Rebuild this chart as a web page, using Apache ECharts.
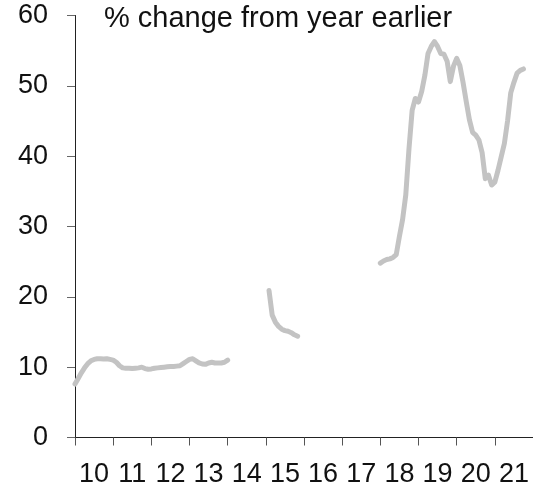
<!DOCTYPE html>
<html>
<head>
<meta charset="utf-8">
<script src="https://cdn.jsdelivr.net/npm/echarts@6/dist/echarts.min.js"></script>
<style>
html,body{margin:0;padding:0;background:#fff;}
#c{width:533px;height:493px;}
</style>
</head>
<body>
<div id="c"></div>
<script>
// Tick labels (years, centred in each year)
const yearLabels = ['10','11','12','13','14','15','16','17','18','19','20','21'];
const yTicks = [0, 10, 20, 30, 40, 50, 60];
const titleText = '% change from year earlier';

// Monthly values, % change from year earlier, in three segments
const seg1Start = 2010;          // Jan 2010
const seg1Values = [7.6, 8.4, 9.2, 9.9, 10.5, 10.9, 11.1, 11.2, 11.2, 11.15, 11.2, 11.1,
  11.0, 10.7, 10.2, 9.9, 9.85, 9.85, 9.8, 9.85, 9.9, 10.0, 9.8, 9.7,
  9.75, 9.85, 9.9, 9.95, 10.0, 10.05, 10.1, 10.1, 10.15, 10.2, 10.5, 10.8,
  11.1, 11.2, 10.9, 10.6, 10.45, 10.4, 10.6, 10.7, 10.6, 10.6, 10.6, 10.7,
  11.0];
const seg2Start = 2015 + 1 / 12; // Feb 2015
const seg2Values = [20.9, 17.4, 16.4, 15.8, 15.4, 15.2, 15.1, 14.9, 14.6, 14.4];
const seg3Start = 2018;          // Jan 2018
const seg3Values = [24.8, 25.1, 25.3, 25.4, 25.6, 26.0, 28.6, 31.0, 34.5, 41.0, 46.5, 48.2,
  47.7, 49.2, 51.5, 54.6, 55.6, 56.3, 55.6, 54.6, 54.5, 53.5, 50.6, 52.8,
  53.9, 52.9, 50.5, 47.8, 45.2, 43.4, 43.0, 42.3, 40.5, 36.8, 37.3, 35.9,
  36.3, 38.0, 39.9, 41.8, 45.0, 49.0, 50.5, 51.8, 52.2, 52.4];

function segData(start, vals) {
  return vals.map((v, i) => [start + i / 12, v]);
}
const data = [].concat(
  segData(seg1Start, seg1Values), [[seg1Start + seg1Values.length / 12, null]],
  segData(seg2Start, seg2Values), [[seg2Start + seg2Values.length / 12, null]],
  segData(seg3Start, seg3Values)
);

const FONT = 'Liberation Sans';
const chart = echarts.init(document.getElementById('c'), null, {renderer: 'canvas'});
chart.setOption({
  animation: false,
  backgroundColor: '#ffffff',
  title: {
    text: titleText,
    left: 104,
    top: 4,
    padding: 0,
    textStyle: {fontFamily: FONT, fontSize: 29, fontWeight: 'normal', color: '#111'}
  },
  grid: {left: 75, right: -2, top: 15.5, bottom: 55.5, containLabel: false},
  xAxis: [
    {
      type: 'value', min: 2010, max: 2022, interval: 1,
      axisLine: {show: true, onZero: false, lineStyle: {color: '#222', width: 1}},
      axisTick: {show: true, length: 8, lineStyle: {color: '#555'}},
      axisLabel: {show: false},
      splitLine: {show: false}
    },
    {
      type: 'category', data: yearLabels, boundaryGap: true, position: 'bottom',
      axisLine: {show: false}, axisTick: {show: false}, splitLine: {show: false},
      axisLabel: {show: true, interval: 0, margin: 24, fontFamily: FONT, fontSize: 27, color: '#111'}
    }
  ],
  yAxis: {
    type: 'value', min: yTicks[0], max: yTicks[yTicks.length - 1], interval: 10,
    axisLine: {show: true, lineStyle: {color: '#222', width: 1}},
    axisTick: {show: true, length: 8, lineStyle: {color: '#666'}},
    axisLabel: {margin: 27, fontFamily: FONT, fontSize: 27, color: '#111'},
    splitLine: {show: false}
  },
  series: [{
    type: 'line',
    xAxisIndex: 0,
    data: data,
    showSymbol: false,
    connectNulls: false,
    lineStyle: {color: '#c3c3c3', width: 5, cap: 'round', join: 'round'},
    clip: false
  }]
});
</script>
</body>
</html>
